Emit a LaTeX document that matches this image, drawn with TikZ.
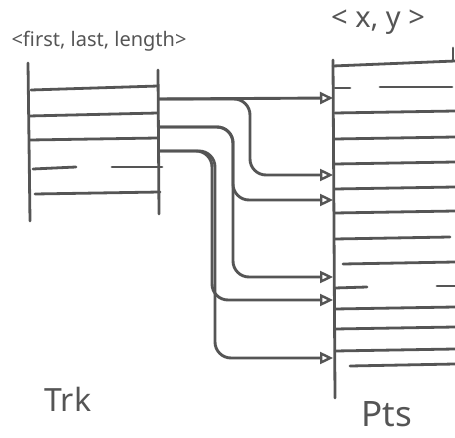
\documentclass[tikz,border=0pt]{standalone}
\usepackage{fontspec}
\setmainfont{Noto Sans}
\usetikzlibrary{arrows.meta}
\definecolor{ink}{HTML}{555555}
\begin{document}
\begin{tikzpicture}[x=1pt,y=-1pt,line cap=round,
  tbl/.style={draw=ink,line width=2.8pt},
  link/.style={draw=ink,line width=2.9pt,rounded corners=16pt,
    -{Triangle[open,length=13pt,width=12pt,line width=2.4pt]}},
  lbl/.style={text=ink,inner sep=0pt}]
\useasboundingbox (0,0) rectangle (455,438);

% labels
\node[lbl,font=\fontsize{20}{20}\selectfont] (trkhead) at (99,41) {<first, last, length>};
\node[lbl,font=\fontsize{29}{29}\selectfont] (ptshead) at (378,22) {< x, y >};
\node[lbl,font=\fontsize{32}{32}\selectfont] (trk) at (68,399) {Trk};
\node[lbl,font=\fontsize{35}{35}\selectfont] (pts) at (387,414) {Pts};

% Trk table
\draw[tbl] (28,63) -- (30,221);
\draw[tbl] (158,70) -- (159,214);
\draw[tbl] (31,90) -- (158,86);
\draw[tbl] (29,116) -- (158,113);
\draw[tbl] (30,140) -- (158,138);
\draw[tbl] (33,169) -- (76,167);
\draw[tbl] (112,167) -- (162,167);
\draw[tbl] (35,194) -- (160,192);

% Pts table
\draw[tbl] (333,60) -- (335,398);
\draw[tbl] (333,66) -- (455,61);
\draw[tbl] (453,48) -- (453,60);
\draw[tbl] (335,88) -- (350,88);
\draw[tbl] (380,87) -- (452,87);
\draw[tbl] (335,113) -- (455,111);
\draw[tbl] (335,139) -- (455,137);
\draw[tbl] (335,164) -- (455,162);
\draw[tbl] (335,189) -- (455,187);
\draw[tbl] (335,213) -- (455,211);
\draw[tbl] (335,239) -- (450,237);
\draw[tbl] (343,264) -- (455,262);
\draw[tbl] (335,288) -- (367,287);
\draw[tbl] (437,286) -- (455,286);
\draw[tbl] (335,309) -- (455,307);
\draw[tbl] (335,329) -- (455,327);
\draw[tbl] (335,351) -- (455,349);
\draw[tbl] (350,366) -- (455,364);

% connectors
\coordinate (s1) at (159,99);
\coordinate (s2) at (159,127);
\coordinate (s3) at (159,151);
\coordinate (t1) at (333,98);
\coordinate (t2) at (333,175);
\coordinate (t3) at (333,200);
\coordinate (t4) at (333,277);
\coordinate (t5) at (333,300);
\coordinate (t6) at (333,358);
\coordinate (k2) at (250,175);
\coordinate (k3) at (233,200);
\coordinate (k4) at (233,277);
\coordinate (k5) at (212,300);
\coordinate (k6) at (215,358);

\draw[link] (s1) -- (t1);
\draw[link] (s1) -| (k2) -- (t2);
\draw[link] (s2) -| (k3) -- (t3);
\draw[link] (s2) -| (k4) -- (t4);
\draw[link] (s3) -| (k5) -- (t5);
\draw[link] (s3) -| (k6) -- (t6);
\end{tikzpicture}
\end{document}
